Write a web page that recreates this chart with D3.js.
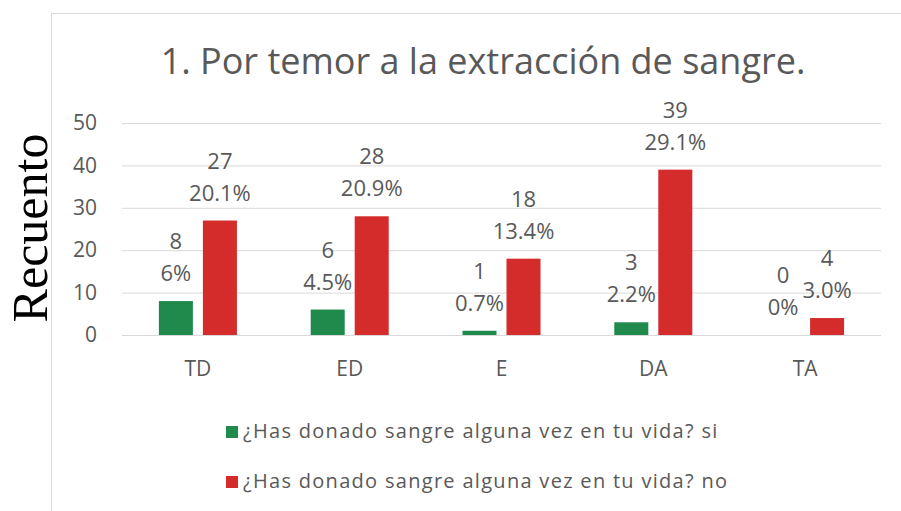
<!DOCTYPE html>
<html>
<head>
<meta charset="utf-8">
<script src="https://cdn.jsdelivr.net/npm/d3@7"></script>
<style>
  body { margin: 0; background: #fff; }
  svg { display: block; }
</style>
</head>
<body>
<svg id="chart"></svg>
<script>
const categories = ["TD", "ED", "E", "DA", "TA"];
const seriesNames = ["¿Has donado sangre alguna vez en tu vida? si", "¿Has donado sangre alguna vez en tu vida? no"];
const valuesSi = [8, 6, 1, 3, 0];
const valuesNo = [27, 28, 18, 39, 4];
const pctSi = ["6%", "4.5%", "0.7%", "2.2%", "0%"];
const pctNo = ["20.1%", "20.9%", "13.4%", "29.1%", "3.0%"];
const yTicks = [0, 10, 20, 30, 40, 50];

const width = 901;
const height = 511;
const font = "'Open Sans', Lato, sans-serif";
const grey = "#595959";
const colors = ["#1f8a4c", "#d42b2b"];

const svg = d3.select("#chart")
    .attr("width", width)
    .attr("height", height)
    .attr("font-family", font);

// chart frame (cropped at right and bottom in the original)
svg.append("rect")
    .attr("x", 51.5).attr("y", 13.5)
    .attr("width", 900).attr("height", 600)
    .attr("fill", "#fff")
    .attr("stroke", "#d9d9d9");

const y = d3.scaleLinear().domain([0, 50]).range([335, 123]);
const x = d3.scaleBand().domain(categories).range([122, 881]).paddingInner(0.486).paddingOuter(0.243);
const xSub = d3.scaleBand().domain([0, 1]).range([0, x.bandwidth()]).paddingInner(0.227);

// gridlines + y labels
svg.append("g")
    .attr("transform", "translate(122,0)")
    .call(d3.axisLeft(y).tickValues(yTicks).tickSize(-759).tickPadding(25))
    .call(g => g.select(".domain").remove())
    .call(g => g.selectAll(".tick line").attr("stroke", "#d9d9d9"))
    .call(g => g.selectAll(".tick text").attr("fill", grey).attr("font-size", 21).attr("font-family", font));

// x labels
svg.append("g")
    .attr("transform", "translate(0,335)")
    .call(d3.axisBottom(x).tickSize(0).tickPadding(26))
    .call(g => g.select(".domain").remove())
    .call(g => g.selectAll(".tick text").attr("fill", grey).attr("font-size", 21).attr("font-family", font));

const series = [valuesSi, valuesNo];
const pcts = [pctSi, pctNo];

series.forEach((vals, s) => {
    const rows = categories.map((c, i) => ({cat: c, v: vals[i], p: pcts[s][i]}));

    svg.append("g").selectAll("rect")
        .data(rows)
        .enter().append("rect")
        .attr("x", d => x(d.cat) + xSub(s))
        .attr("y", d => y(d.v))
        .attr("width", xSub.bandwidth())
        .attr("height", d => y(0) - y(d.v))
        .attr("fill", colors[s]);

    const lab = svg.append("g")
        .attr("font-size", 22)
        .attr("fill", grey)
        .attr("text-anchor", "middle")
        .selectAll("g")
        .data(rows)
        .enter().append("g")
        .attr("transform", d => `translate(${x(d.cat) + xSub(s) + xSub.bandwidth() / 2},${y(d.v) - 20})`);
    lab.append("text").attr("y", -32).text(d => d.v);
    lab.append("text").attr("y", 0).text(d => d.p);
});

// title
svg.append("text")
    .attr("x", 483).attr("y", 74)
    .attr("text-anchor", "middle")
    .attr("font-size", 36)
    .attr("fill", grey)
    .text("1. Por temor a la extracción de sangre.");

// y axis title
svg.append("text")
    .attr("transform", "translate(47,228) rotate(-90)")
    .attr("text-anchor", "middle")
    .attr("font-family", "'Liberation Serif', 'Times New Roman', serif")
    .attr("font-size", 50)
    .attr("fill", "#000")
    .text("Recuento");

// legend
const leg = svg.append("g").selectAll("g")
    .data(seriesNames)
    .enter().append("g")
    .attr("transform", (d, i) => `translate(226,${432 + i * 50})`);
leg.append("rect")
    .attr("x", 0).attr("y", -6)
    .attr("width", 12).attr("height", 12)
    .attr("fill", (d, i) => colors[i]);
leg.append("text")
    .attr("x", 17).attr("y", 6)
    .attr("font-size", 20)
    .attr("letter-spacing", 1.3)
    .attr("fill", grey)
    .text(d => d);
</script>
</body>
</html>
